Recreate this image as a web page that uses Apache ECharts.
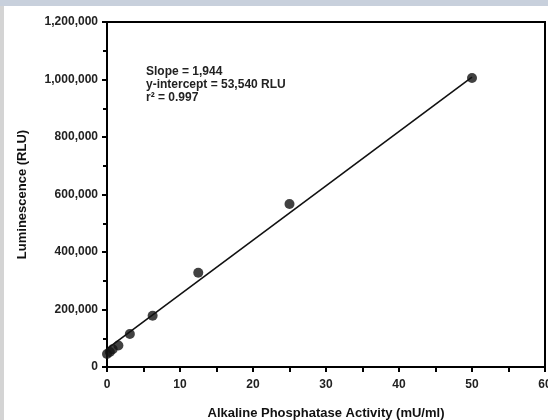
<!DOCTYPE html>
<html>
<head>
<meta charset="utf-8">
<script src="https://cdn.jsdelivr.net/npm/echarts@6/dist/echarts.min.js"></script>
<style>
html,body{margin:0;padding:0;background:#fff;}
#wrap{position:relative;width:548px;height:420px;overflow:hidden;background:#fff;}
#chart{position:absolute;left:0;top:0;width:548px;height:420px;}
#topband{position:absolute;left:0;top:0;width:548px;height:6px;background:#c8d0dc;}
#leftband{position:absolute;left:0;top:6px;width:4px;height:414px;background:#d4d4d4;}
</style>
</head>
<body>
<div id="wrap"><div id="chart"></div><div id="topband"></div><div id="leftband"></div></div>
<script>
// Data
const activity = [0, 0.39, 0.78, 1.56, 3.13, 6.25, 12.5, 25, 50];
const luminescence = [45000, 52000, 62000, 75000, 115000, 178000, 328000, 567000, 1005000];
const fitX = [0, 50];
const fitY = [63000, 1008000];
const annotationLines = ['Slope = 1,944', 'y-intercept = 53,540 RLU', 'r\u00B2 = 0.997'];
const xTitle = 'Alkaline Phosphatase Activity (mU/ml)';
const yTitle = 'Luminescence (RLU)';

const FONT = '"Liberation Sans", Arial, sans-serif';
const chart = echarts.init(document.getElementById('chart'));
chart.setOption({
  backgroundColor: '#fff',
  animation: false,
  grid: { left: 107, right: 3, top: 22, bottom: 53, outerBoundsMode: 'none', containLabel: false,
    show: true, borderColor: '#000', borderWidth: 2, backgroundColor: 'transparent' },
  xAxis: {
    type: 'value', min: 0, max: 60, interval: 10,
    name: xTitle, nameLocation: 'middle', nameGap: 40,
    nameTextStyle: { fontFamily: FONT, fontWeight: 'bold', fontSize: 13, color: '#111' },
    axisLine: { show: true, lineStyle: { color: '#000', width: 2 } },
    axisTick: { show: true, length: 5, lineStyle: { color: '#000', width: 2 } },
    minorTick: { show: true, splitNumber: 2, length: 5, lineStyle: { color: '#000', width: 2 } },
    splitLine: { show: false },
    axisLabel: { fontFamily: FONT, fontWeight: 'bold', fontSize: 12, color: '#222', margin: 12 }
  },
  yAxis: {
    type: 'value', min: 0, max: 1200000, interval: 200000,
    name: yTitle, nameLocation: 'middle', nameGap: 78, nameRotate: 90,
    nameTextStyle: { fontFamily: FONT, fontWeight: 'bold', fontSize: 13, color: '#111' },
    axisLine: { show: true, lineStyle: { color: '#000', width: 2 } },
    axisTick: { show: true, length: 5, lineStyle: { color: '#000', width: 2 } },
    minorTick: { show: true, splitNumber: 2, length: 4, lineStyle: { color: '#000', width: 2 } },
    splitLine: { show: false },
    axisLabel: { fontFamily: FONT, fontWeight: 'bold', fontSize: 12, color: '#222', margin: 9,
      formatter: v => v.toLocaleString('en-US') }
  },
  series: [
    {
      type: 'line', data: fitX.map((x, i) => [x, fitY[i]]), symbol: 'none',
      lineStyle: { color: '#111', width: 1.6 }, z: 2, silent: true
    },
    {
      type: 'scatter', data: activity.map((x, i) => [x, luminescence[i]]),
      symbol: 'circle', symbolSize: 10, itemStyle: { color: '#111' }, z: 3
    }
  ],
  graphic: [{
    type: 'text', left: 146, top: 65,
    style: { text: annotationLines.join('\n'), fontFamily: FONT, fontWeight: 'bold', fontSize: 12, lineHeight: 13, fill: '#222' }
  }]
});
</script>
</body>
</html>
